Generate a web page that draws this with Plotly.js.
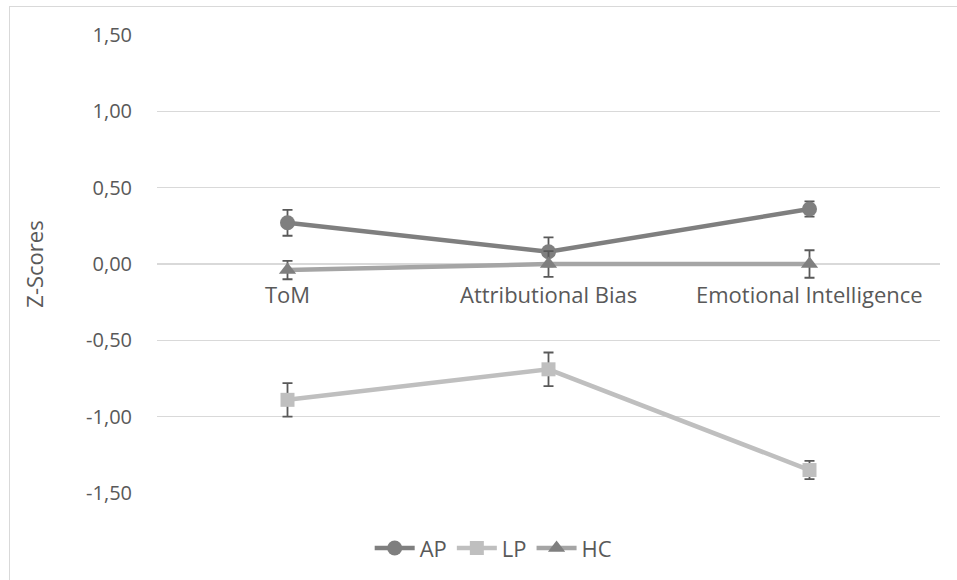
<!DOCTYPE html>
<html>
<head>
<meta charset="utf-8">
<script src="https://cdn.plot.ly/plotly-3.0.1.min.js"></script>
<style>
  html, body { margin: 0; padding: 0; background: #fff; }
  #wrap { position: relative; width: 957px; height: 580px; }
  #chart { width: 957px; height: 580px; }
  #frame { position: absolute; left: 9px; top: 6px; width: 960px; height: 590px;
           border-left: 1.5px solid #d9d9d9; border-top: 1.5px solid #d9d9d9; pointer-events: none; }
</style>
</head>
<body>
<div id="wrap">
  <div id="chart"></div>
  <div id="frame"></div>
</div>
<script>
const categories = ["ToM", "Attributional Bias", "Emotional Intelligence"];
const apValues = [0.27, 0.08, 0.36];
const apErrors = [0.085, 0.095, 0.05];
const lpValues = [-0.89, -0.69, -1.35];
const lpErrors = [0.11, 0.11, 0.06];
const hcValues = [-0.04, 0.00, 0.00];
const hcErrors = [0.06, 0.085, 0.09];
const yTickValues = [-1.5, -1.0, -0.5, 0.0, 0.5, 1.0, 1.5];
const yTickLabels = ["-1,50", "-1,00", "-0,50", "0,00", "0,50", "1,00", "1,50"];

const FONT = "'Open Sans', sans-serif";
const FS = 22;
const FT = 20;
const TXT = "#595959";
const errStyle = (arr) => ({ type: "data", array: arr, visible: true, color: "#595959", thickness: 1.8, width: 5 });

const traces = [
  { name: "AP", x: categories, y: apValues, error_y: errStyle(apErrors), mode: "lines+markers", type: "scatter",
    line: { color: "#7f7f7f", width: 4.5 }, marker: { symbol: "circle", size: 15, color: "#7f7f7f" } },
  { name: "LP", x: categories, y: lpValues, error_y: errStyle(lpErrors), mode: "lines+markers", type: "scatter",
    line: { color: "#bfbfbf", width: 4.5 }, marker: { symbol: "square", size: 14, color: "#bfbfbf" } },
  { name: "HC", x: categories, y: hcValues, error_y: errStyle(hcErrors), mode: "lines+markers", type: "scatter",
    line: { color: "#a5a5a5", width: 4.5 }, marker: { symbol: "triangle-up", size: 15, color: "#7f7f7f" } }
];

const annotations = categories.map(c => ({
  x: c, y: 0, xref: "x", yref: "y", text: c, showarrow: false,
  yanchor: "top", yshift: -13, font: { family: FONT, size: FS, color: TXT }
}));

const layout = {
  width: 957, height: 580,
  margin: { l: 157, r: 17, t: 35, b: 86 },
  paper_bgcolor: "#ffffff", plot_bgcolor: "#ffffff",
  font: { family: FONT, size: FS, color: TXT },
  showlegend: true,
  legend: { orientation: "h", x: 0.43, xanchor: "center", y: -0.118, yanchor: "middle",
            font: { family: FONT, size: FS, color: TXT }, traceorder: "normal", itemwidth: 40 },
  xaxis: { type: "category", showticklabels: false, showgrid: false, zeroline: false, showline: false,
           range: [-0.5, 2.5], fixedrange: true },
  yaxis: { range: [-1.5005, 1.5005], tickmode: "array", tickvals: yTickValues, ticktext: yTickLabels,
           showgrid: true, gridcolor: "#d9d9d9", gridwidth: 1.3, zeroline: true, zerolinecolor: "#d9d9d9", zerolinewidth: 1.3,
           showline: false, ticks: "outside", ticklen: 20, tickcolor: "rgba(0,0,0,0)",
           tickfont: { family: FONT, size: FT, color: TXT },
           title: { text: "Z-Scores", standoff: 36, font: { family: FONT, size: FS, color: TXT } } },
  annotations: annotations
};

Plotly.newPlot("chart", traces, layout, { displayModeBar: false, staticPlot: true });
</script>
</body>
</html>
